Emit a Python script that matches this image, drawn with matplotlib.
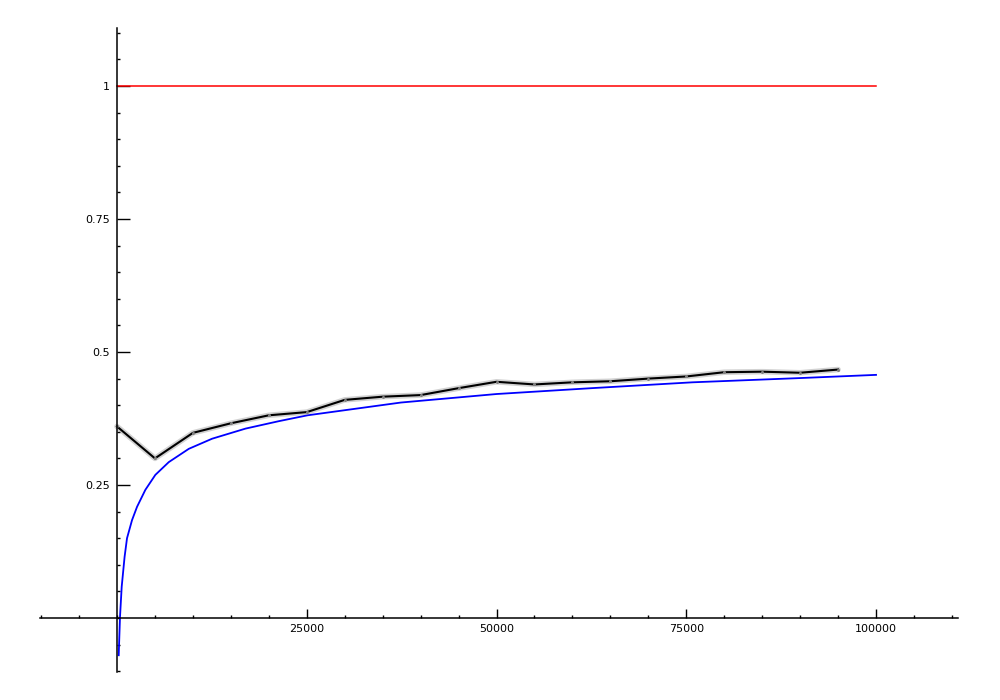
import numpy as np
import matplotlib
matplotlib.use('Agg')
import matplotlib.pyplot as plt
from matplotlib.ticker import FixedLocator, MultipleLocator

# measured series (black polyline with markers)
meas_x = [0, 5000, 10000, 15000, 20000, 25000, 30000, 35000, 40000, 45000,
          50000, 55000, 60000, 65000, 70000, 75000, 80000, 85000, 90000, 95000]
meas_y = [0.360, 0.300, 0.348, 0.366, 0.381, 0.387, 0.410, 0.416, 0.419, 0.432,
          0.444, 0.439, 0.443, 0.445, 0.450, 0.454, 0.462, 0.463, 0.461, 0.467]

# fitted curve (blue)
fit_x = [224, 395, 620, 1000, 1320, 1980, 2640, 3740, 5050, 6820, 9460, 12530,
         16930, 21330, 25100, 37400, 50000, 62500, 75800, 90000, 100000]
fit_y = [-0.070, 0.002, 0.059, 0.115, 0.150, 0.184, 0.209, 0.241, 0.269, 0.293,
         0.318, 0.337, 0.356, 0.370, 0.381, 0.405, 0.421, 0.432, 0.443, 0.451, 0.457]

# reference level (red)
ref_x = [0, 100000]
ref_y = [1, 1]

xticks = [25000, 50000, 75000, 100000]
xlabels = ['25000', '50000', '75000', '100000']
yticks = [0.25, 0.5, 0.75, 1]
ylabels = ['0.25', '0.5', '0.75', '1']

fig = plt.figure(figsize=(10, 7), dpi=100)
ax = fig.add_axes([0.04, 0.04, 0.918, 0.92])

ax.plot(ref_x, ref_y, color='red', lw=1.1)
ax.plot(fit_x, fit_y, color='blue', lw=1.3)
ax.plot(meas_x, meas_y, color='gray', lw=4, alpha=0.35, solid_capstyle='round')
ax.plot(meas_x, meas_y, color='black', lw=1.5)
ax.plot(meas_x, meas_y, 'o', color='gray', ms=2.2, mec='none')

ax.set_xlim(-10145, 110800)
ax.set_ylim(-0.1015, 1.109)

for s in ['top', 'right']:
    ax.spines[s].set_visible(False)
ax.spines['left'].set_position(('data', 0))
ax.spines['bottom'].set_position(('data', 0))
ax.spines['left'].set_linewidth(1.1)
ax.spines['bottom'].set_linewidth(1.1)

ax.xaxis.set_major_locator(FixedLocator(xticks))
ax.set_xticklabels(xlabels)
ax.yaxis.set_major_locator(FixedLocator(yticks))
ax.set_yticklabels(ylabels)
ax.xaxis.set_minor_locator(MultipleLocator(5000))
ax.yaxis.set_minor_locator(MultipleLocator(0.05))

ax.tick_params(axis='x', which='major', direction='in', length=6.5, width=1, pad=4, labelsize=8)
ax.tick_params(axis='x', which='minor', direction='in', length=2.2, width=1)
ax.tick_params(axis='y', which='major', direction='in', length=9.5, width=1, pad=5, labelsize=8)
ax.tick_params(axis='y', which='minor', direction='in', length=2.2, width=1)

fig.savefig('out.png', dpi=100)
